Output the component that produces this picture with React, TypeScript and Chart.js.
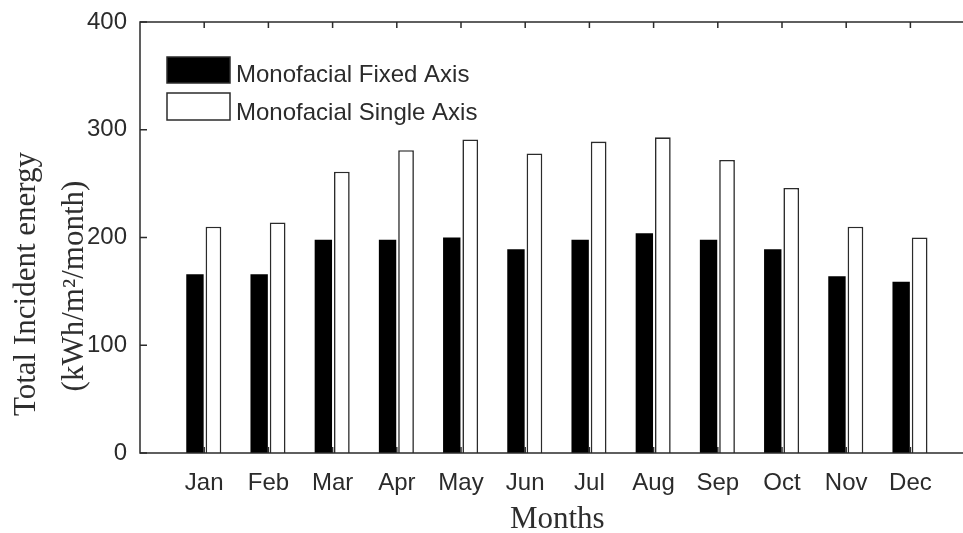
import React, { useEffect, useRef } from "react";
import { Chart, registerables } from "chart.js";

Chart.register(...registerables);

const months = ["Jan", "Feb", "Mar", "Apr", "May", "Jun", "Jul", "Aug", "Sep", "Oct", "Nov", "Dec"];
const fixedAxis = [166, 166, 198, 198, 200, 189, 198, 204, 198, 189, 164, 159];
const singleAxis = [210, 214, 261, 281, 291, 278, 289, 293, 272, 246, 210, 200];
const seriesLabels = ["Monofacial Fixed Axis", "Monofacial Single Axis"];
const yTicks = [0, 100, 200, 300, 400];
const xTitle = "Months";
const yTitleLines = ["Total Incident energy", "(kWh/m\u00B2/month)"];

const AXIS = "#2b2b2b";

const decorPlugin = {
  id: "decor",
  afterDatasetsDraw(chart: any) {
    const { ctx, chartArea } = chart;
    const { left, right, top, bottom } = chartArea;
    const xs = chart.scales.x;
    const ys = chart.scales.y;
    ctx.save();
    ctx.strokeStyle = AXIS;
    ctx.lineWidth = 1.5;
    // axis box (left, top, bottom)
    ctx.beginPath();
    ctx.moveTo(right, top);
    ctx.lineTo(left, top);
    ctx.lineTo(left, bottom);
    ctx.lineTo(right, bottom);
    ctx.stroke();
    // inward tick marks
    ctx.beginPath();
    yTicks.forEach((v) => {
      const py = ys.getPixelForValue(v);
      ctx.moveTo(left, py);
      ctx.lineTo(left + 7, py);
    });
    months.forEach((_, i) => {
      const px = xs.getPixelForValue(i + 1);
      ctx.moveTo(px, top);
      ctx.lineTo(px, top + 6);
      ctx.moveTo(px, bottom);
      ctx.lineTo(px, bottom - 6);
    });
    ctx.stroke();

    // legend inside plot
    const ds = chart.data.datasets;
    const boxX = 167;
    const boxW = 63;
    const rows = [
      { y: 57, h: 26, base: 81.5 },
      { y: 93, h: 27, base: 120 },
    ];
    ctx.font = '24px "Liberation Sans", Arial, sans-serif';
    ctx.textAlign = "left";
    ctx.textBaseline = "alphabetic";
    rows.forEach((r, i) => {
      ctx.fillStyle = ds[i].backgroundColor;
      ctx.fillRect(boxX, r.y, boxW, r.h);
      ctx.lineWidth = 1.5;
      ctx.strokeStyle = AXIS;
      ctx.strokeRect(boxX, r.y, boxW, r.h);
      ctx.fillStyle = AXIS;
      ctx.fillText(ds[i].label, boxX + 69, r.base);
    });

    // x title
    ctx.font = '31px "Liberation Serif", "Times New Roman", serif';
    ctx.fillStyle = "#2e2e2e";
    ctx.textAlign = "center";
    ctx.fillText(xTitle, (left + right) / 2, 528);

    // y title (two rotated lines)
    const yLines = [
      { x: 35, y: 284 },
      { x: 83, y: 286 },
    ];
    yTitleLines.forEach((t, i) => {
      ctx.save();
      ctx.translate(yLines[i].x, yLines[i].y);
      ctx.rotate(-Math.PI / 2);
      ctx.fillText(t, 0, 0);
      ctx.restore();
    });
    ctx.restore();
  },
};

const zeroPad = (s: any) => {
  s.paddingLeft = 0;
  s.paddingRight = 0;
  s.paddingTop = 0;
  s.paddingBottom = 0;
};

export default function App() {
  const canvasRef = useRef<HTMLCanvasElement | null>(null);

  useEffect(() => {
    const canvas = canvasRef.current;
    if (!canvas) return;
    const chart = new Chart(canvas, {
      type: "bar",
      data: {
        datasets: [
          {
            label: seriesLabels[0],
            data: fixedAxis.map((v, i) => ({ x: i + 1, y: v })),
            backgroundColor: "#000000",
            borderColor: "#000000",
            borderWidth: 0,
            barPercentage: 0.94,
            categoryPercentage: 0.576,
          },
          {
            label: seriesLabels[1],
            data: singleAxis.map((v, i) => ({ x: i + 1, y: v })),
            backgroundColor: "#ffffff",
            borderColor: AXIS,
            borderWidth: 1.6,
            barPercentage: 0.85,
            categoryPercentage: 0.576,
          },
        ],
      },
      options: {
        responsive: false,
        animation: false,
        layout: { padding: { left: 0, right: 15.4, top: 22, bottom: 0 } },
        plugins: {
          legend: { display: false },
          tooltip: { enabled: false },
          title: { display: false },
        },
        scales: {
          x: {
            type: "linear",
            offset: false,
            min: 0,
            max: 13,
            grid: { display: false, drawTicks: false, offset: false },
            border: { display: false },
            ticks: {
              stepSize: 1,
              autoSkip: false,
              maxRotation: 0,
              padding: 16,
              color: AXIS,
              font: { family: '"Liberation Sans", Arial, sans-serif', size: 24 },
              callback: (v: any) => months[Number(v) - 1] ?? "",
            },
            afterFit: (s: any) => {
              s.height = 80;
              zeroPad(s);
            },
          },
          y: {
            min: 0,
            max: 400,
            grid: { display: false, drawTicks: false },
            border: { display: false },
            ticks: {
              stepSize: 100,
              padding: 13,
              color: AXIS,
              font: { family: '"Liberation Sans", Arial, sans-serif', size: 24 },
            },
            afterFit: (s: any) => {
              s.width = 140;
              zeroPad(s);
            },
          },
        },
      },
      plugins: [decorPlugin],
    } as any);
    return () => chart.destroy();
  }, []);

  return (
    <div
      style={{
        position: "fixed",
        left: 0,
        top: 0,
        width: 963,
        height: 533,
        overflow: "hidden",
        background: "#ffffff",
      }}
    >
      <canvas ref={canvasRef} width={990} height={533} style={{ width: 990, height: 533, display: "block" }} />
    </div>
  );
}
